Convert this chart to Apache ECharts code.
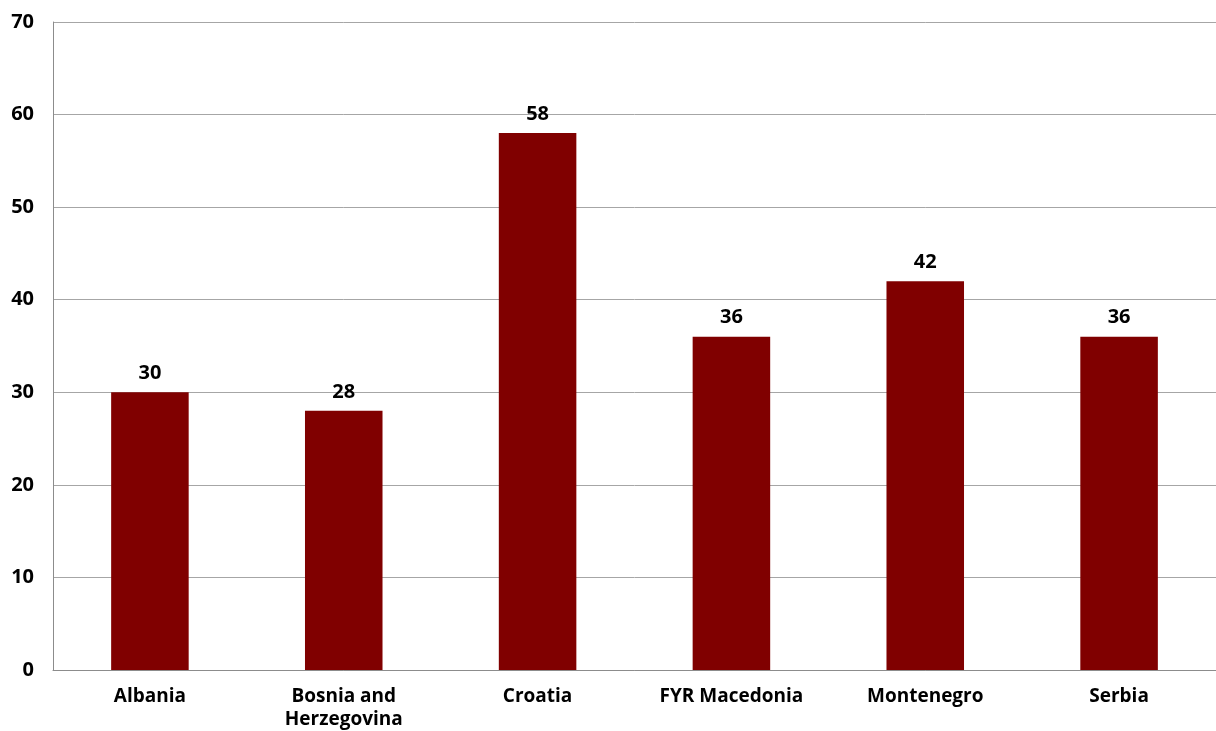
<!DOCTYPE html>
<html>
<head>
<meta charset="utf-8">
<script src="https://cdn.jsdelivr.net/npm/echarts@6/dist/echarts.min.js"></script>
<style>
  html, body { margin: 0; padding: 0; background: #fff; }
  #chart { width: 1216px; height: 731px; }
</style>
</head>
<body>
<div id="chart"></div>
<script>
// Countries shown along the horizontal axis
const categories = ['Albania', 'Bosnia and\nHerzegovina', 'Croatia', 'FYR Macedonia', 'Montenegro', 'Serbia'];
// Value for each country
const values = [30, 28, 58, 36, 42, 36];
// Value axis range
const yMin = 0;
const yMax = 70;
const yStep = 10;

const font = '"Open Sans", "Noto Sans", sans-serif';
const chart = echarts.init(document.getElementById('chart'));
chart.setOption({
  animation: false,
  grid: { left: 53, right: -3, top: 22, bottom: 61, containLabel: false },
  xAxis: {
    type: 'category',
    data: categories,
    axisLine: { show: true, lineStyle: { color: '#8c8c8c', width: 1 } },
    axisTick: { show: false },
    axisLabel: {
      color: '#000', fontFamily: font, fontWeight: 'bold', fontSize: 19,
      lineHeight: 23, margin: 15, interval: 0
    }
  },
  yAxis: {
    type: 'value',
    min: yMin, max: yMax, interval: yStep,
    axisLine: { show: true, lineStyle: { color: '#8c8c8c', width: 1 } },
    axisTick: { show: false },
    splitLine: { show: true, lineStyle: { color: '#a6a6a6', width: 1 } },
    axisLabel: {
      color: '#000', fontFamily: font, fontWeight: 'bold', fontSize: 20, margin: 19
    }
  },
  series: [{
    type: 'bar',
    data: values,
    barWidth: '40%',
    itemStyle: { color: '#800000' },
    label: {
      show: true, position: 'top', distance: 9,
      color: '#000', fontFamily: font, fontWeight: 'bold', fontSize: 20
    }
  }]
});
</script>
</body>
</html>
